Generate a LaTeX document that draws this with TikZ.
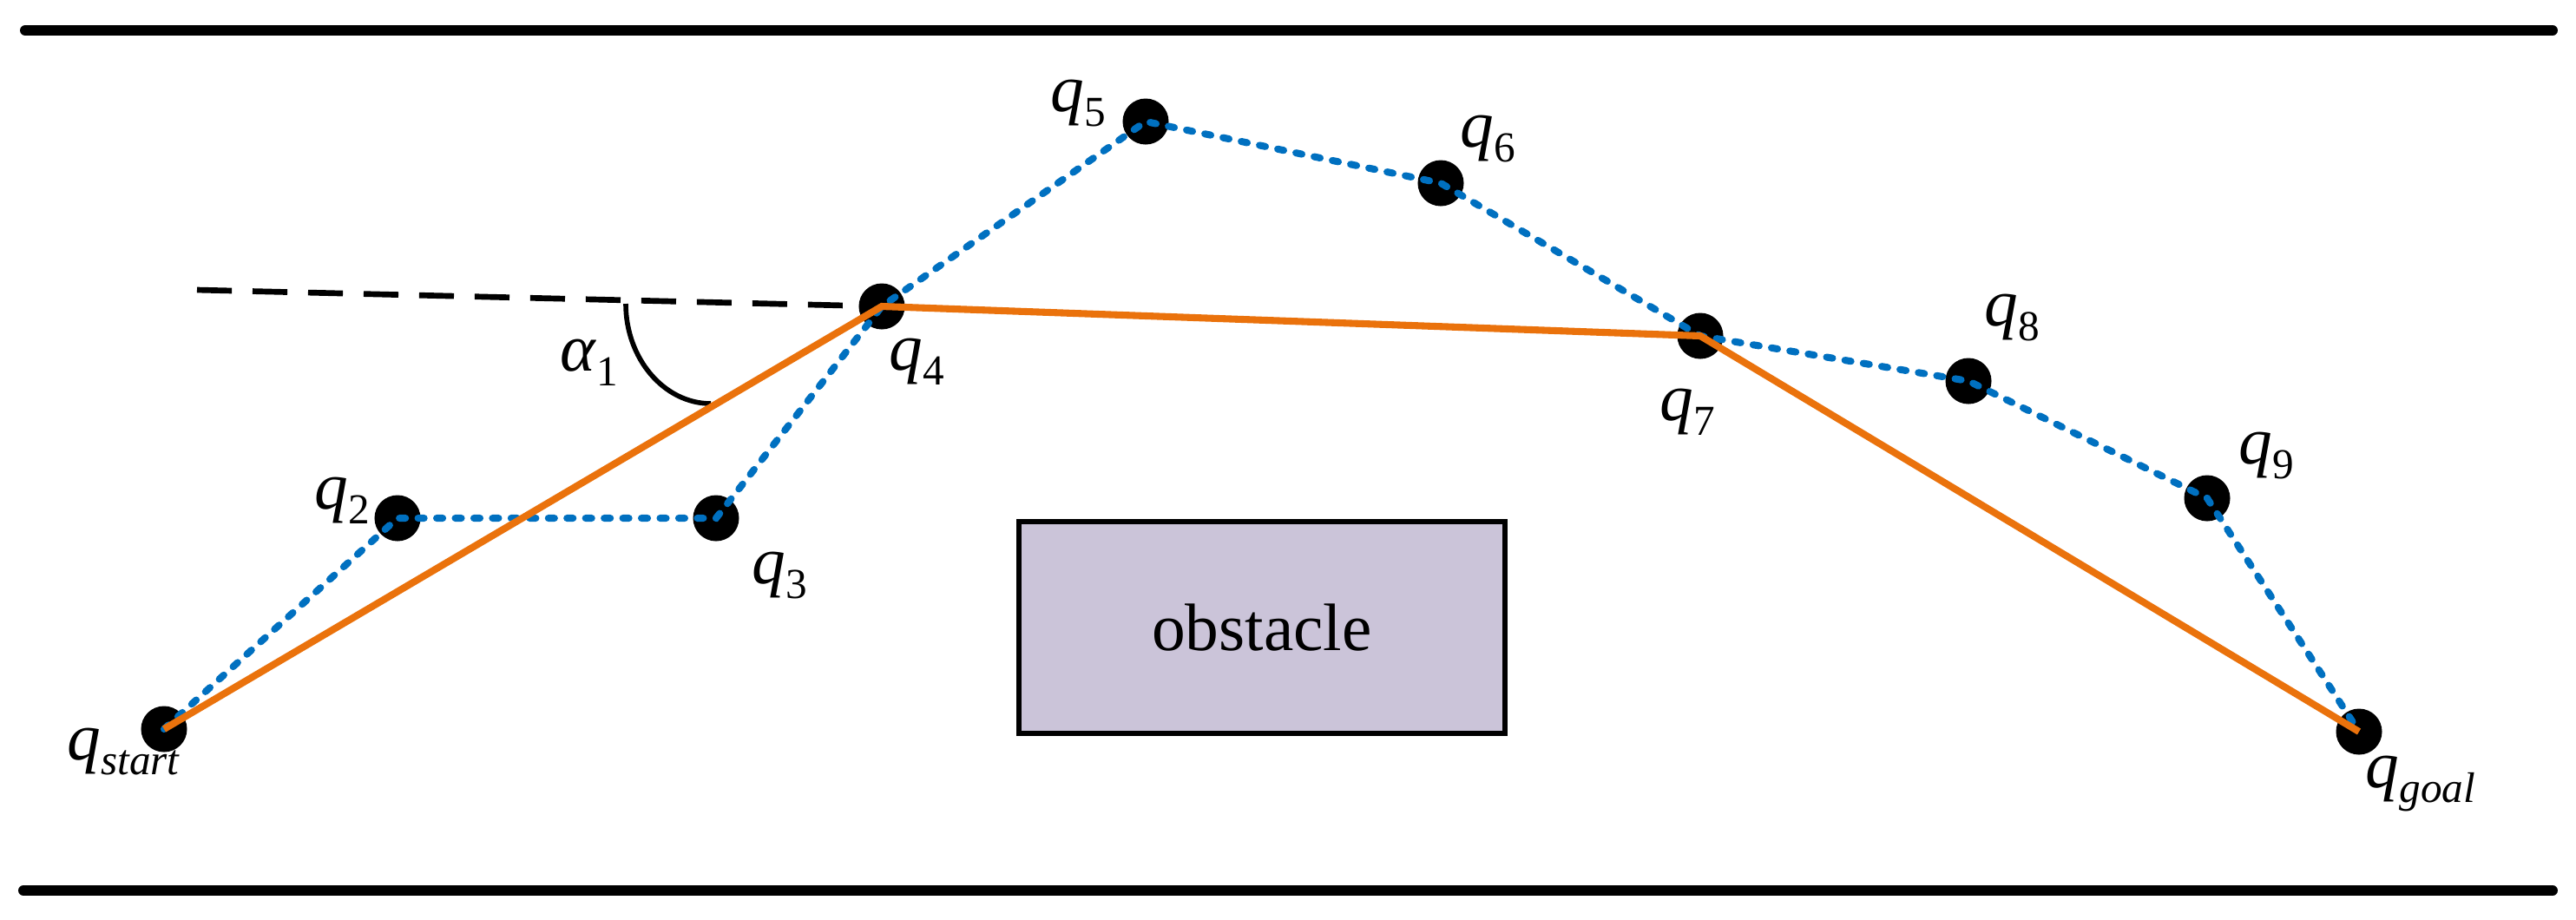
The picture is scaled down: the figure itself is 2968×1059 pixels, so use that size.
\documentclass[tikz,border=0pt]{standalone}
\usepackage{fontspec}
\setmainfont{Liberation Serif}
\definecolor{pathorange}{HTML}{EA720C}
\definecolor{pathblue}{HTML}{0070C0}
\definecolor{obsfill}{HTML}{CBC4D9}
\newcommand{\qlab}[1]{\textit{q}\raisebox{-5pt}{\fontsize{14}{14}\selectfont #1}}
\begin{document}
\begin{tikzpicture}[x=0.01cm,y=-0.01cm,
  wp/.style={circle,fill=black,inner sep=0pt,minimum size=0.53cm},
  lab/.style={anchor=base west,inner sep=0pt,font=\fontsize{22}{26}\selectfont},
  rawpath/.style={draw=pathblue,line width=2.3pt,line cap=round,dash pattern=on 2pt off 4.1pt},
  smoothpath/.style={draw=pathorange,line width=2.3pt},
  wall/.style={line width=3.4pt,line cap=round},
  obstaclebox/.style={draw=black,line width=1.7pt,fill=obsfill,minimum width=5.59cm,minimum height=2.44cm,inner sep=0pt,font=\fontsize{22}{26}\selectfont}]
\useasboundingbox (0,0) rectangle (2968,1059);
% walls
\coordinate (tl) at (29,35);
\coordinate (tr) at (2941,35);
\coordinate (bl) at (27,1026);
\coordinate (br) at (2941,1026);
\draw[wall] (tl) -- (tr);
\draw[wall] (bl) -- (br);
% obstacle
\node[obstaclebox] (obs) at (1454,723) {obstacle};
% waypoints
\node[wp] (qs) at (189,840) {};
\node[wp] (q2) at (458,597) {};
\node[wp] (q3) at (825,597) {};
\node[wp] (q4) at (1016,353) {};
\node[wp] (q5) at (1320,140) {};
\node[wp] (q6) at (1660,211) {};
\node[wp] (q7) at (1959,387) {};
\node[wp] (q8) at (2268,439) {};
\node[wp] (q9) at (2543,574) {};
\node[wp] (qg) at (2718,843) {};
% reference dashed line and angle
\coordinate (dl) at (227,334);
\draw[line width=1.9pt,dash pattern=on 11.4pt off 6.8pt] (dl) -- (q4.center);
\coordinate (arcA) at (721,350);
\coordinate (arcB) at (819,465);
\draw[line width=1.6pt] (arcA) .. controls (721,413) and (765,465) .. (arcB);
% paths
\draw[rawpath] (qs.center) -- (q2.center) -- (q3.center) -- (q4.center) -- (q5.center) -- (q6.center) -- (q7.center) -- (q8.center) -- (q9.center) -- (qg.center);
\draw[smoothpath] (qs.center) -- (q4.center) -- (q7.center) -- (qg.center);
% labels
\node[lab] (lqs) at (77,875) {\qlab{\textit{start}}};
\node[lab] (lq2) at (362,586) {\qlab{2}};
\node[lab] (lq3) at (866,672) {\qlab{3}};
\node[lab] (lq4) at (1024,426) {\qlab{4}};
\node[lab] (lq5) at (1210,128) {\qlab{5}};
\node[lab] (lq6) at (1682,169) {\qlab{6}};
\node[lab] (lq7) at (1912,484) {\qlab{7}};
\node[lab] (lq8) at (2286,375) {\qlab{8}};
\node[lab] (lq9) at (2579,534) {\qlab{9}};
\node[lab] (lqg) at (2725,907) {\qlab{\textit{goal}}};
\node[lab] (lal) at (645,427) {\textit{α}\raisebox{-5pt}{\fontsize{14}{14}\selectfont 1}};
\end{tikzpicture}
\end{document}
